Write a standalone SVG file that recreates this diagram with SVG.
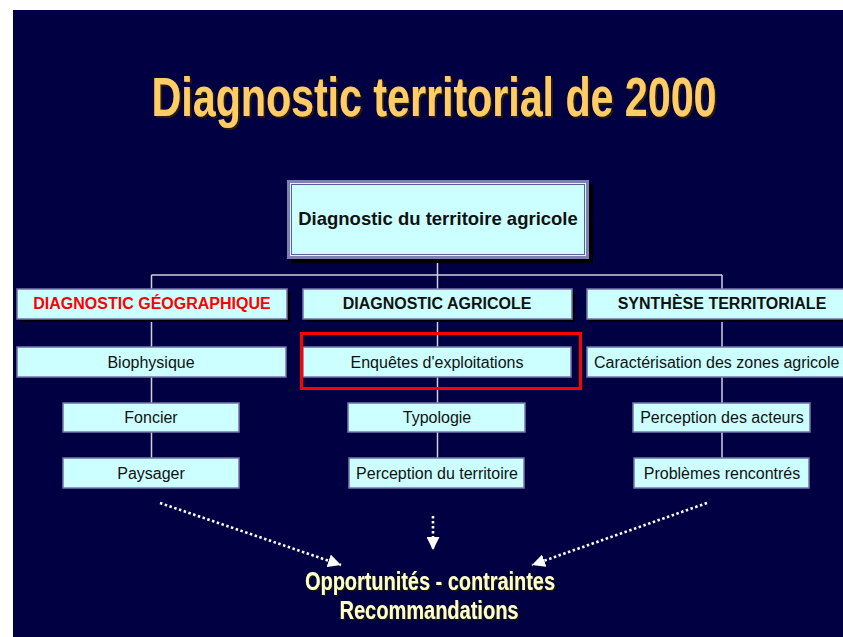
<svg xmlns="http://www.w3.org/2000/svg" width="843" height="637" viewBox="0 0 843 637">
<style>
.bx{fill:#CCFFFF;stroke:#7474AC;stroke-width:1.5}
.sh{fill:#000000}
.t{font-family:"Liberation Sans",Arial,sans-serif;font-size:16px;fill:#111111;text-anchor:middle}
.h{font-family:"Liberation Sans",Arial,sans-serif;font-size:16px;font-weight:bold;fill:#111111;text-anchor:middle}
.ttl{font-family:"Liberation Sans",Arial,sans-serif;font-weight:bold;text-anchor:middle}
.cn{stroke:#CFCFE0;stroke-width:1.5;fill:none}
.dot{stroke:#FFFFFF;stroke-width:2.6;stroke-dasharray:2.5 2.5;fill:none}
</style>
<defs>
<marker id="ah" markerUnits="userSpaceOnUse" viewBox="0 0 12 12" refX="12" refY="6" markerWidth="13" markerHeight="13" orient="auto">
<path d="M0,0 L12,6 L0,12 z" fill="#FFFFFF"/>
</marker>
<filter id="ds" x="-10%" y="-50%" width="120%" height="200%">
<feDropShadow dx="2.5" dy="2" stdDeviation="0.4" flood-color="#2A1E00" flood-opacity="1"/>
</filter>
<filter id="ds2" filterUnits="userSpaceOnUse" x="0" y="0" width="843" height="637">
<feDropShadow dx="1.5" dy="1.5" stdDeviation="0.3" flood-color="#1A1A00" flood-opacity="1"/>
</filter>
</defs>
<rect x="0" y="0" width="843" height="637" fill="#FFFFFF"/>
<rect x="13" y="10" width="830" height="627" fill="#000042"/>

<g id="title">
<text class="ttl" x="0" y="0" transform="translate(434,116) scale(0.735,1)" style="font-size:56px" fill="#FFCC66" filter="url(#ds)">Diagnostic territorial de 2000</text>
</g>

<g id="connectors">
<path class="cn" d="M437.5,259 V275 M151.5,275 H722 M151.5,275 V458 M437.5,275 V458 M722,275 V458"/>
<path class="dot" d="M160,503 L341,565" marker-end="url(#ah)"/>
<path class="dot" d="M433,516 L433,550" marker-end="url(#ah)"/>
<path class="dot" d="M707,503 L532,565" marker-end="url(#ah)"/>
</g>

<g id="root">
<rect class="sh" x="291" y="184" width="302" height="79"/>
<rect x="288.5" y="181.5" width="299" height="76" fill="#CCFFFF" stroke="#8080B4" stroke-width="3"/>
<rect x="291.5" y="184.5" width="293" height="70" fill="none" stroke="#5C5C9C" stroke-width="1"/>
<text class="h" x="438" y="225" style="font-size:18.5px">Diagnostic du territoire agricole</text>
</g>

<g id="hdr-geo">
<rect class="sh" x="20" y="292" width="270" height="30"/>
<rect class="bx" x="17" y="289" width="270" height="30"/>
<text class="h" x="152" y="309" style="fill:#FF0000">DIAGNOSTIC GÉOGRAPHIQUE</text>
</g>
<g id="hdr-agri">
<rect class="sh" x="306" y="292" width="269" height="30"/>
<rect class="bx" x="303" y="289" width="269" height="30"/>
<text class="h" x="437" y="309">DIAGNOSTIC AGRICOLE</text>
</g>
<g id="hdr-synth">
<rect class="sh" x="590" y="292" width="270" height="30"/>
<rect class="bx" x="587" y="289" width="270" height="30"/>
<text class="h" x="722" y="309">SYNTHÈSE TERRITORIALE</text>
</g>

<g id="biophysique">
<rect class="bx" x="17" y="347" width="269" height="30"/>
<text class="t" x="151" y="368">Biophysique</text>
</g>
<g id="foncier">
<rect class="bx" x="63" y="403" width="176" height="29"/>
<text class="t" x="151" y="423">Foncier</text>
</g>
<g id="paysager">
<rect class="bx" x="63" y="458" width="176" height="30"/>
<text class="t" x="151" y="479">Paysager</text>
</g>

<g id="enquetes">
<rect class="bx" x="303" y="347" width="268" height="30"/>
<text class="t" x="437" y="368">Enquêtes d'exploitations</text>
</g>
<g id="typologie">
<rect class="bx" x="348" y="403" width="177" height="29"/>
<text class="t" x="437" y="423">Typologie</text>
</g>
<g id="perception-territoire">
<rect class="bx" x="349" y="458" width="175" height="30"/>
<text class="t" x="437" y="479">Perception du territoire</text>
</g>

<g id="caracterisation">
<rect class="bx" x="587" y="347" width="270" height="30"/>
<text class="t" x="594" y="368" style="text-anchor:start">Caractérisation des zones agricole</text>
</g>
<g id="perception-acteurs">
<rect class="bx" x="633" y="403" width="177" height="29"/>
<text class="t" x="722" y="423">Perception des acteurs</text>
</g>
<g id="problemes">
<rect class="bx" x="634" y="458" width="175" height="30"/>
<text class="t" x="722" y="479">Problèmes rencontrés</text>
</g>

<g id="highlight">
<rect x="301.5" y="333.5" width="279" height="55" fill="none" stroke="#FF0000" stroke-width="3"/>
</g>

<g id="outcome">
<text class="ttl" x="430" y="590" style="font-size:25px" textLength="250" lengthAdjust="spacingAndGlyphs" fill="#FFFFCC" filter="url(#ds2)">Opportunités - contraintes</text>
<text class="ttl" x="429" y="619" style="font-size:25px" textLength="179" lengthAdjust="spacingAndGlyphs" fill="#FFFFCC" filter="url(#ds2)">Recommandations</text>
</g>
</svg>
